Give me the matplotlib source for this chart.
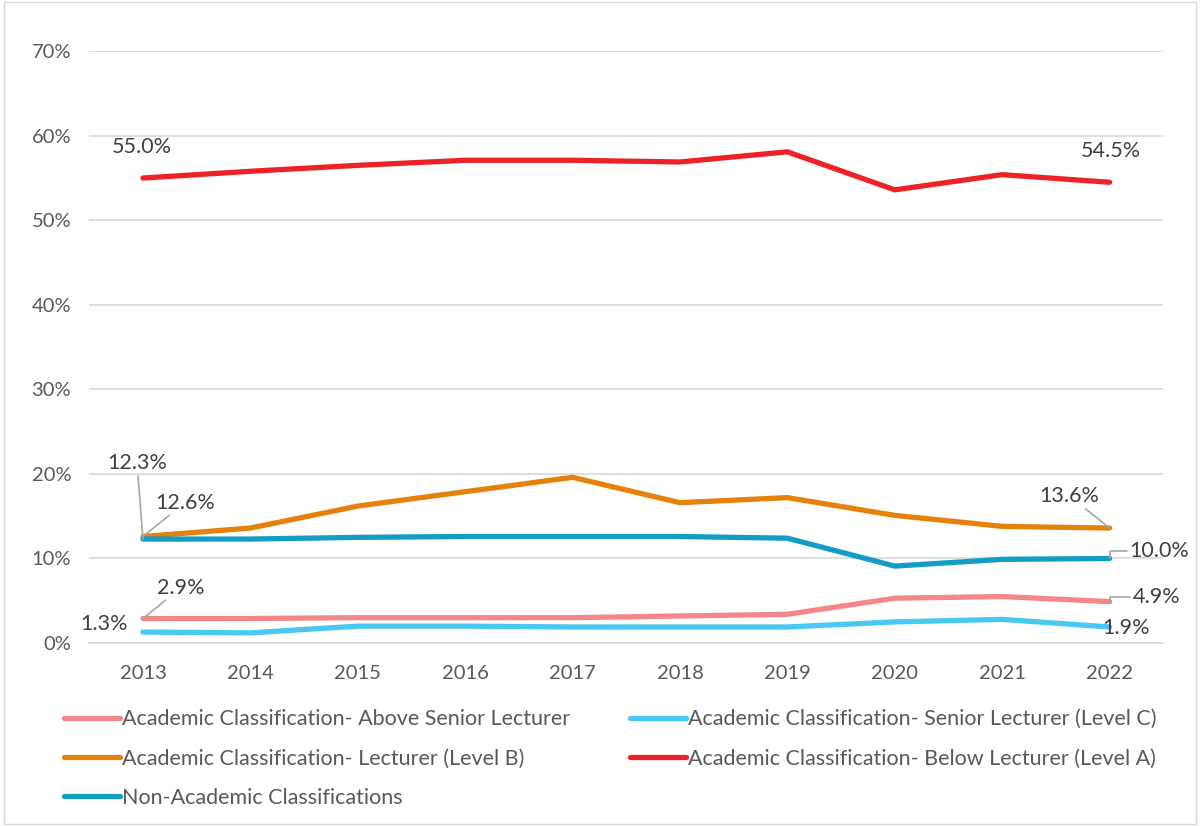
import matplotlib.pyplot as plt
from matplotlib.patches import Rectangle
from matplotlib.ticker import PercentFormatter

years = [2013, 2014, 2015, 2016, 2017, 2018, 2019, 2020, 2021, 2022]
above_senior = [2.9, 2.9, 3.0, 3.0, 3.0, 3.2, 3.4, 5.3, 5.5, 4.9]
senior_c = [1.3, 1.2, 2.0, 2.0, 1.9, 1.9, 1.9, 2.5, 2.8, 1.9]
lecturer_b = [12.6, 13.6, 16.2, 17.9, 19.6, 16.6, 17.2, 15.1, 13.8, 13.6]
below_a = [55.0, 55.8, 56.5, 57.1, 57.1, 56.9, 58.1, 53.6, 55.4, 54.5]
non_academic = [12.3, 12.3, 12.5, 12.6, 12.6, 12.6, 12.4, 9.1, 9.9, 10.0]

labels = [
    'Academic Classification- Above Senior Lecturer',
    'Academic Classification- Senior Lecturer (Level C)',
    'Academic Classification- Lecturer (Level B)',
    'Academic Classification- Below Lecturer (Level A)',
    'Non-Academic Classifications',
]
colors = ['#F4878A', '#48C9F1', '#E5820B', '#EC2227', '#129CC6']

plt.rcParams['font.family'] = ['Lato', 'DejaVu Sans']
txt = '#404040'
grey = '#595959'

fig = plt.figure(figsize=(12, 8.26), dpi=100)
ax = fig.add_axes([0.0744, 0.2215, 0.895, 0.7165])
fig.patches.append(Rectangle((0.003, 0.003), 0.994, 0.994, transform=fig.transFigure,
                             fill=False, edgecolor='#D9D9D9', linewidth=1))

series = [above_senior, senior_c, lecturer_b, below_a, non_academic]
handles = {}
for vals, lab, col in zip(series, labels, colors):
    ln, = ax.plot(years, vals, color=col, linewidth=3.8, solid_capstyle='round',
                  solid_joinstyle='round', label=lab)
    handles[lab] = ln

ax.set_xlim(2012.5, 2022.5)
ax.set_ylim(0, 70)
ax.set_yticks(range(0, 71, 10))
ax.set_xticks(years)
ax.yaxis.set_major_formatter(PercentFormatter(decimals=0))
ax.grid(axis='y', color='#D9D9D9', linewidth=1.2)
ax.set_axisbelow(True)
for s in ['top', 'right', 'left']:
    ax.spines[s].set_visible(False)
ax.spines['bottom'].set_color('#D9D9D9')
ax.spines['bottom'].set_linewidth(1.2)
ax.tick_params(axis='both', length=0, labelsize=14.5, labelcolor=grey)
ax.tick_params(axis='x', pad=16)
ax.tick_params(axis='y', pad=13)

# data labels
lead = dict(arrowstyle='-', color='#A6A6A6', linewidth=1.2, shrinkA=0, shrinkB=0)
elbow = dict(lead, connectionstyle='angle,angleA=0,angleB=90,rad=0')
fs = 15.5
ax.annotate('55.0%', (years[0], below_a[0]), xytext=(-1, 31), textcoords='offset pixels',
            ha='center', va='center', fontsize=fs, color=txt)
ax.annotate('54.5%', (years[-1], below_a[-1]), xytext=(1, 31), textcoords='offset pixels',
            ha='center', va='center', fontsize=fs, color=txt)
ax.annotate('12.3%', (years[0], non_academic[0]), xytext=(-6, 76), textcoords='offset pixels',
            ha='center', va='center', fontsize=fs, color=txt, arrowprops=lead)
ax.annotate('12.6%', (years[0], lecturer_b[0]), xytext=(42, 34), textcoords='offset pixels',
            ha='center', va='center', fontsize=fs, color=txt, arrowprops=lead)
ax.annotate('2.9%', (years[0], above_senior[0]), xytext=(38, 31), textcoords='offset pixels',
            ha='center', va='center', fontsize=fs, color=txt, arrowprops=lead)
ax.annotate('1.3%', (years[0], senior_c[0]), xytext=(-39, 8), textcoords='offset pixels',
            ha='center', va='center', fontsize=fs, color=txt)
ax.annotate('13.6%', (years[-1], lecturer_b[-1]), xytext=(-40, 32), textcoords='offset pixels',
            ha='center', va='center', fontsize=fs, color=txt, arrowprops=lead)
ax.annotate('10.0%', (years[-1], non_academic[-1]), xytext=(50, 7), textcoords='offset pixels',
            ha='center', va='center', fontsize=fs, color=txt, arrowprops=elbow)
ax.annotate('4.9%', (years[-1], above_senior[-1]), xytext=(47, 5), textcoords='offset pixels',
            ha='center', va='center', fontsize=fs, color=txt, arrowprops=elbow)
ax.annotate('1.9%', (years[-1], senior_c[-1]), xytext=(16, -1), textcoords='offset pixels',
            ha='center', va='center', fontsize=fs, color=txt)

# legend: column-wise fill so order rows match
order = [labels[0], labels[2], labels[4], labels[1], labels[3]]
leg = fig.legend([handles[k] for k in order], order, ncol=2, loc='upper left',
                 bbox_to_anchor=(0.046, 0.152), frameon=False, fontsize=15.5,
                 labelcolor=grey, handlelength=2.6, handletextpad=0.1,
                 columnspacing=2.8, labelspacing=0.9, borderaxespad=0)

fig.savefig('out.png', dpi=100)
